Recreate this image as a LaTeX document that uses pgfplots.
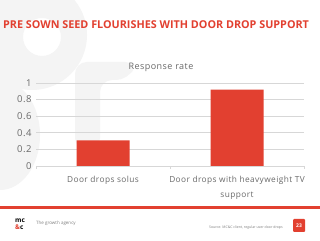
\documentclass[border=0pt]{standalone}
\usepackage{pgfplots}
\pgfplotsset{compat=1.18}
\usepackage{fontspec}
\setmainfont{Open Sans}
\newfontfamily\spaced[LetterSpace=5]{Open Sans}
\definecolor{mred}{RGB}{226,64,48}
\definecolor{bggrey}{RGB}{244,244,244}
\definecolor{txtgrey}{RGB}{105,105,105}
\definecolor{gridgrey}{RGB}{215,215,215}
\begin{document}
\begin{tikzpicture}[x=1pt,y=1pt]
\useasboundingbox (0,0) rectangle (320,240);
\fill[white] (0,0) rectangle (320,240);
\begin{scope}
\clip (0,0) rectangle (320,240);
\fill[bggrey,even odd rule] (32,205) circle (55) (42,203) circle (19);
\fill[bggrey,rounded corners=12pt] (75,90) -- (75,178) -- (137,178) -- (128,160) -- (100,160) -- (100,90) -- cycle;
\fill[bggrey] (0,105) ellipse (40 and 55);
\end{scope}
\node[anchor=west, text=mred, font=\bfseries\fontsize{10.8}{12}\selectfont, inner sep=0pt] at (3,215) {PRE SOWN SEED FLOURISHES WITH DOOR DROP SUPPORT};
\begin{axis}[at={(36pt,74pt)}, anchor=south west, scale only axis,
  width=268pt, height=83pt,
  ymin=0, ymax=1, xmin=-0.5, xmax=1.5,
  ybar, bar width=53pt,
  ytick={0,0.2,0.4,0.6,0.8,1},
  yticklabels={0,0.2,0.4,0.6,0.8,1},
  ymajorgrids, grid style={gridgrey, line width=0.6pt},
  axis x line*=bottom, axis y line*=left,
  y axis line style={draw=none},
  x axis line style={gridgrey, line width=0.6pt},
  xtick={0,1},
  xticklabels={Door drops solus, {Door drops with heavyweight TV\\support}},
  xticklabel style={align=center, text=txtgrey, font=\spaced\fontsize{8.3}{15}\selectfont, yshift=-7pt},
  yticklabel style={text=txtgrey, font=\spaced\fontsize{9.5}{10}\selectfont, xshift=-1pt},
  minor xtick={-0.5,0.5,1.5},
  minor tick length=3pt, major tick length=0pt,
  tick align=outside,
  every tick/.style={gridgrey, line width=0.6pt},
  title={Response rate},
  title style={text=txtgrey, font=\spaced\fontsize{9}{11}\selectfont, yshift=2pt, xshift=-9pt},
  /pgf/number format/assume math mode=true,
]
\addplot[fill=mred, draw=none] coordinates {(0,0.31) (1,0.92)};
\end{axis}
\fill[mred] (0,31) rectangle (320,34);
\node[anchor=west, inner sep=0pt, font=\bfseries\fontsize{6.5}{7.5}\selectfont, align=left] at (15,16) {mc\\{\color{mred}\&}c};
\node[anchor=west, text=gray, font=\fontsize{4.5}{5}\selectfont, inner sep=0pt] at (36,17) {The growth agency};
\node[anchor=east, text=gray, font=\fontsize{3.5}{4}\selectfont, inner sep=0pt] at (283,12) {Source: MC\&C client, regular user door drops};
\fill[mred, rounded corners=1pt] (293,8) rectangle (305,21);
\node[text=white, font=\bfseries\fontsize{5}{6}\selectfont, inner sep=0pt] at (299,14.5) {23};
\end{tikzpicture}
\end{document}
